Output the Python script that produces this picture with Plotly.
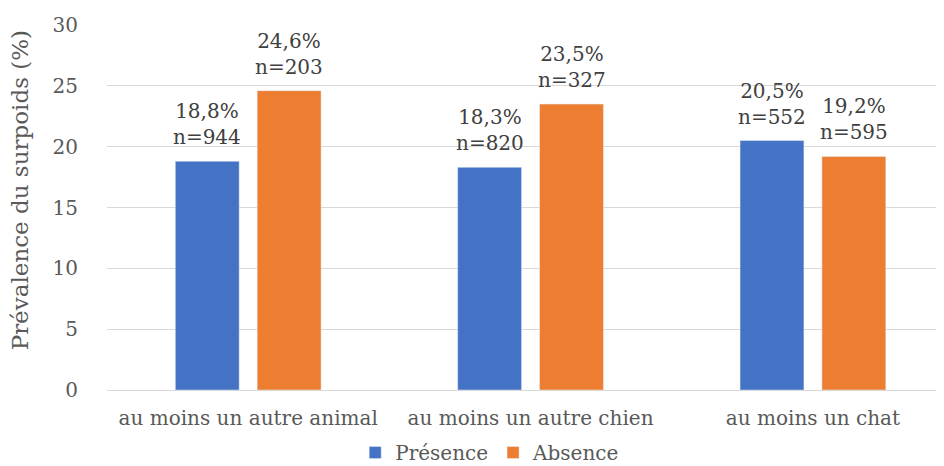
import plotly.graph_objects as go

categories = ["au moins un autre animal", "au moins un autre chien", "au moins un chat"]
presence = [18.8, 18.3, 20.5]
absence = [24.6, 23.5, 19.2]
n_presence = [944, 820, 552]
n_absence = [203, 327, 595]
y_ticks = [0, 5, 10, 15, 20, 25, 30]

FONT = "DejaVu Serif"
BLUE = "#4472C4"
ORANGE = "#ED7D31"


def label(v, n):
    return f"{v:.1f}".replace(".", ",") + f"%<br>n={n}"


fig = go.Figure()
fig.add_bar(x=categories, y=presence, name="Présence", marker_color=BLUE)
fig.add_bar(x=categories, y=absence, name="Absence", marker_color=ORANGE)

# labels above each bar (offset by half a bar slot to sit over the grouped bars)
for vals, ns, shift in [(presence, n_presence, -41), (absence, n_absence, 41)]:
    for c, v, n in zip(categories, vals, ns):
        fig.add_annotation(x=c, y=v, text=label(v, n), showarrow=False,
                           xshift=shift, yshift=10, yanchor="bottom",
                           font=dict(family=FONT, size=20, color="#404040"))

# y axis title, placed like the original (a bit above the middle)
fig.add_annotation(text="Prévalence du surpoids (%)", textangle=-90, showarrow=False,
                   xref="paper", yref="paper", x=-0.104, y=0.548,
                   xanchor="center", yanchor="middle",
                   font=dict(family=FONT, size=23, color="#595959"))

# page body has an 8px margin, so margins are shifted by that much
fig.update_layout(
    width=944, height=466,
    margin=dict(l=99, r=12, t=17, b=84, autoexpand=False),
    plot_bgcolor="white", paper_bgcolor="white",
    barmode="group", bargap=0.42, bargroupgap=0.22,
    font=dict(family=FONT, size=20, color="#595959"),
    legend=dict(orientation="h", x=0.46, xanchor="center", yref="container",
                y=0.046, yanchor="middle", font=dict(size=20), traceorder="normal"),
)
fig.update_xaxes(range=[-0.5, 2.45], showline=True, linecolor="#D9D9D9", linewidth=1,
                 ticks="outside", ticklen=10, tickcolor="rgba(0,0,0,0)",
                 tickfont=dict(size=20), automargin=False)
fig.update_yaxes(range=[0, 30], tickvals=y_ticks, showgrid=True, gridcolor="#D9D9D9",
                 zeroline=False, ticks="outside", ticklen=24, tickcolor="rgba(0,0,0,0)",
                 tickfont=dict(size=20), automargin=False)

fig.write_html("out.html")
